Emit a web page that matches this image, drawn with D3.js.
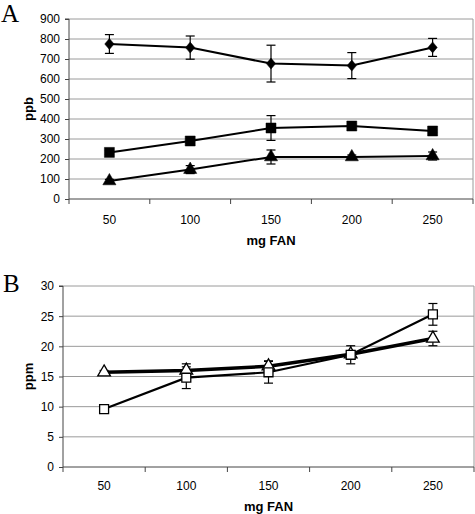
<!DOCTYPE html>
<html><head><meta charset="utf-8">
<script src="https://cdn.jsdelivr.net/npm/d3@7"></script>
<style>body{margin:0;background:#fff}svg{display:block}</style>
</head><body>
<svg id="c" width="475" height="514"></svg>
<script>
const categories = ["50","100","150","200","250"];
// Panel A (ppb)
const aTicks = [0,100,200,300,400,500,600,700,800,900];
const aDiamond = [775, 757, 677, 667, 758];
const aDiamondErr = [47, 58, 92, 65, 45];
const aSquare = [233, 290, 355, 365, 340];
const aSquareErr = [10, 12, 62, 10, 8];
const aTriangle = [90, 147, 210, 210, 215];
const aTriangleErr = [8, 20, 35, 10, 20];
// Panel B (ppm)
const bTriangle = [15.7, 16.0, 16.7, 18.7, 21.3];
const bTriangleErr = [0.3, 1.1, 0.9, 0.6, 1.2];
const bSquare = [9.6, 14.8, 15.7, 18.6, 25.3];
const bSquareErr = [0.3, 1.8, 1.8, 1.5, 1.8];
const bTicks = [0,5,10,15,20,25,30];

const svg = d3.select("#c");
const font = "Arial, 'Liberation Sans', sans-serif";

function panel(cfg){
  const g = svg.append("g");
  const x = d3.scaleBand().domain(categories).range([cfg.left, cfg.right]).padding(0);
  const y = d3.scaleLinear().domain([0, cfg.max]).range([cfg.bottom, cfg.top]);
  g.selectAll(".grid").data(cfg.ticks.filter(t=>t>0)).join("line")
    .attr("x1", cfg.left).attr("x2", cfg.right)
    .attr("y1", d=>y(d)).attr("y2", d=>y(d))
    .attr("stroke", "#9a9a9a").attr("stroke-width", 1);
  g.append("line").attr("x1", cfg.right).attr("x2", cfg.right).attr("y1", cfg.top).attr("y2", cfg.bottom)
    .attr("stroke", "#9a9a9a");
  const ya = d3.axisLeft(y).tickValues(cfg.ticks).tickSize(4).tickPadding(5);
  const yg = g.append("g").attr("transform", `translate(${cfg.left},0)`).call(ya);
  yg.select(".domain").attr("stroke", "#444").attr("d", `M-4,${cfg.top}H0V${cfg.bottom}`);
  yg.selectAll(".tick line").attr("stroke", "#444");
  yg.selectAll("text").attr("font-family", font).attr("font-size", 12).attr("fill", "#000");
  const xa = d3.axisBottom(x).tickSize(0).tickPadding(0);
  const xg = g.append("g").attr("transform", `translate(0,${cfg.bottom})`).call(xa);
  xg.select(".domain").attr("stroke", "#444").attr("d", `M${cfg.left},0H${cfg.right}`);
  xg.selectAll("text").attr("font-family", font).attr("font-size", 12).attr("fill", "#000")
    .attr("y", cfg.xLabelY - cfg.bottom).attr("dy", null);
  const bounds = categories.map(c=>x(c)).concat([cfg.right]);
  xg.selectAll(".btick").data(bounds).join("line").attr("class","btick")
    .attr("x1", d=>d).attr("x2", d=>d).attr("y1", 0).attr("y2", 5).attr("stroke", "#444");
  g.append("text").attr("x", (cfg.left+cfg.right)/2).attr("y", cfg.titleY)
    .attr("text-anchor","middle").attr("font-family", font).attr("font-weight","bold").attr("font-size", 13)
    .text("mg FAN");
  g.append("text").attr("transform", `translate(${cfg.yTitleX},${(cfg.top+cfg.bottom)/2}) rotate(-90)`)
    .attr("text-anchor","middle").attr("font-family", font).attr("font-weight","bold").attr("font-size", 13)
    .text(cfg.yTitle);
  g.append("text").attr("x", cfg.letterX).attr("y", cfg.letterY).attr("font-family", "'Liberation Serif','Times New Roman',serif")
    .attr("font-size", 25).text(cfg.letter);
  const layers = {err: g.append("g"), lines: g.append("g"), marks: g.append("g")};
  return {g, x, y, layers};
}

function series(p, vals, errs, shape, fill, lw){
  const {x, y, layers} = p;
  const cx = c => x(c) + x.bandwidth()/2;
  categories.forEach((c,i)=>{
    const e = errs[i];
    const x0 = cx(c), y1 = y(vals[i]+e), y2 = y(vals[i]-e);
    layers.err.append("line").attr("x1",x0).attr("x2",x0).attr("y1",y1).attr("y2",y2).attr("stroke","#000").attr("stroke-width",1.2);
    [y1,y2].forEach(yy=>layers.err.append("line").attr("x1",x0-4.5).attr("x2",x0+4.5).attr("y1",yy).attr("y2",yy).attr("stroke","#000").attr("stroke-width",1.2));
  });
  const line = d3.line().x((d,i)=>cx(categories[i])).y(d=>y(d));
  layers.lines.append("path").attr("d", line(vals)).attr("fill","none").attr("stroke","#000").attr("stroke-width",lw);
  const sym = d3.symbol().type(shape.type).size(shape.size);
  layers.marks.selectAll(null).data(vals).join("path")
    .attr("transform",(d,i)=>`translate(${cx(categories[i])},${y(d)})${shape.scale||""}`)
    .attr("d", sym()).attr("fill", fill).attr("stroke","#000").attr("stroke-width", fill==="#fff"?1.3:0.5);
}

const A = panel({left:69, right:473, top:19, bottom:199, max:900, ticks:aTicks, xLabelY:224, titleY:245,
  yTitle:"ppb", yTitleX:33, letter:"A", letterX:1, letterY:22});
series(A, aDiamond, aDiamondErr, {type:d3.symbolSquare, size:60, scale:" scale(0.85,1) rotate(45)"}, "#000", 2);
series(A, aSquare, aSquareErr, {type:d3.symbolSquare, size:100}, "#000", 2);
series(A, aTriangle, aTriangleErr, {type:d3.symbolTriangle, size:75}, "#000", 2);

const B = panel({left:63, right:474, top:286, bottom:467, max:30, ticks:bTicks, xLabelY:490, titleY:511,
  yTitle:"ppm", yTitleX:33, letter:"B", letterX:3, letterY:292});
series(B, bTriangle, bTriangleErr, {type:d3.symbolTriangle, size:70}, "#fff", 3.5);
series(B, bSquare, bSquareErr, {type:d3.symbolSquare, size:80}, "#fff", 2.2);
</script>
</body></html>
